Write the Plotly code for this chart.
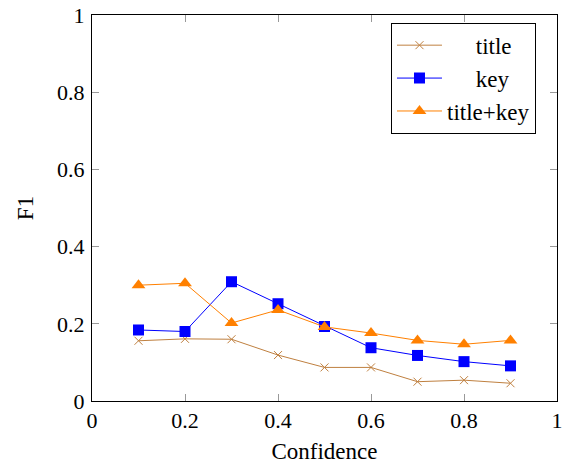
import plotly.graph_objects as go

confidence = [0.1, 0.2, 0.3, 0.4, 0.5, 0.6, 0.7, 0.8, 0.9]
f1_title = [0.156, 0.161, 0.160, 0.119, 0.087, 0.087, 0.050, 0.054, 0.046]
f1_key = [0.184, 0.180, 0.309, 0.252, 0.193, 0.138, 0.118, 0.102, 0.091]
f1_title_key = [0.300, 0.305, 0.202, 0.236, 0.192, 0.176, 0.157, 0.147, 0.157]
series_names = ["title", "key", "title+key"]
tick_vals = [0, 0.2, 0.4, 0.6, 0.8, 1]
tick_text = ["0", "0.2", "0.4", "0.6", "0.8", "1"]

FONT = "Liberation Serif, Times New Roman, DejaVu Serif, serif"

fig = go.Figure()
fig.add_trace(go.Scatter(
    x=confidence, y=f1_title, name="     " + series_names[0],
    mode="lines+markers",
    line=dict(color="#bf8040", width=1),
    marker=dict(symbol="x-thin", size=8, line=dict(color="#bf8040", width=1), color="#bf8040"),
))
fig.add_trace(go.Scatter(
    x=confidence, y=f1_key, name="     " + series_names[1],
    mode="lines+markers",
    line=dict(color="#0000ff", width=1),
    marker=dict(symbol="square", size=11, color="#0000ff"),
))
fig.add_trace(go.Scatter(
    x=confidence, y=f1_title_key, name=series_names[2],
    mode="lines+markers",
    line=dict(color="#ff8000", width=1),
    marker=dict(symbol="triangle-up", size=12, color="#ff8000"),
))

axis_common = dict(
    showgrid=False, zeroline=False,
    showline=True, linecolor="black", linewidth=1,
    mirror="allticks", ticks="inside", ticklen=7, tickcolor="#999999", tickwidth=1,
    tickfont=dict(family=FONT, size=22, color="black"),
    tickvals=tick_vals, ticktext=tick_text,
    range=[0, 1], ticklabeloverflow="allow",
)

fig.update_layout(
    width=562, height=469,
    margin=dict(l=92, r=5, t=15, b=68),
    paper_bgcolor="white", plot_bgcolor="white",
    font=dict(family=FONT, size=22, color="black"),
    xaxis=dict(**axis_common, ticklabelstandoff=0, automargin="bottom",
               title=dict(text="Confidence", font=dict(family=FONT, size=23), standoff=10)),
    yaxis=dict(**axis_common, ticklabelstandoff=2, automargin="left",
               title=dict(text="F1", font=dict(family=FONT, size=23), standoff=17)),
    showlegend=True,
    legend=dict(
        x=0.643, y=0.98, xanchor="left", yanchor="top",
        bordercolor="black", borderwidth=1, bgcolor="white",
        font=dict(family=FONT, size=23, color="black"),
        tracegroupgap=0, itemwidth=45,
        entrywidth=120, entrywidthmode="pixels",
    ),
)

fig.write_html(
    "out.html",
    config={"displayModeBar": False},
    post_script="document.body.style.margin='0';document.body.style.overflow='hidden';",
)
